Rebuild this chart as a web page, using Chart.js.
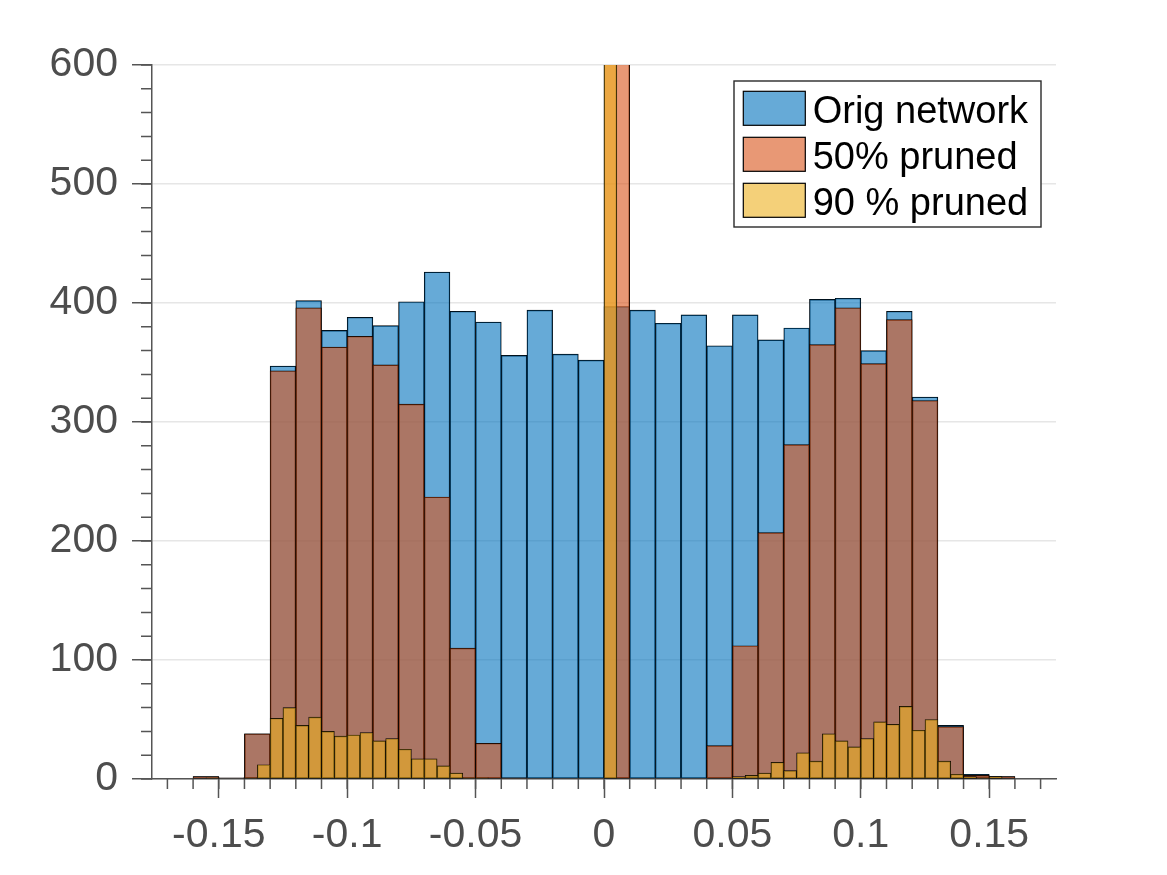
<!DOCTYPE html>
<html>
<head>
<meta charset="utf-8">
<script src="https://cdn.jsdelivr.net/npm/chart.js@4.4.1/dist/chart.umd.min.js"></script>
<style>
html, body { margin: 0; padding: 0; background: #ffffff; }
#wrap { width: 1167px; height: 875px; position: relative; }
</style>
</head>
<body>
<div id="wrap"><canvas id="c"></canvas></div>
<script>
// ---- Data ----
// 0.01-wide bins (Orig network, 50% pruned): bin centres
const coarseBinCenters = [
  -0.155, -0.145, -0.135, -0.125, -0.115, -0.105, -0.095, -0.085,
  -0.075, -0.065, -0.055, -0.045, -0.035, -0.025, -0.015, -0.005,
   0.005,  0.015,  0.025,  0.035,  0.045,  0.055,  0.065,  0.075,
   0.085,  0.095,  0.105,  0.115,  0.125,  0.135,  0.145,  0.155
];
const origNetwork = [
  2, 1, 38, 347, 402, 377, 388, 381,
  401, 426, 393, 384, 356, 394, 357, 352,
  397, 394, 383, 390, 364, 390, 369, 379,
  403, 404, 360, 393, 321, 45, 4, 2
];
const pruned50 = [
  2, 1, 38, 343, 396, 363, 372, 348,
  315, 237, 110, 30, 1, 0, 0, 0,
  5000, 0, 0, 0, 28, 112, 207, 281,
  365, 396, 349, 386, 318, 44, 3, 2
];
// 0.005-wide bins (90 % pruned): bin centres
const fineBinCenters = [
  -0.1575, -0.1525, -0.1475, -0.1425, -0.1375, -0.1325, -0.1275, -0.1225,
  -0.1175, -0.1125, -0.1075, -0.1025, -0.0975, -0.0925, -0.0875, -0.0825,
  -0.0775, -0.0725, -0.0675, -0.0625, -0.0575, -0.0525, -0.0475, -0.0425,
  -0.0375, -0.0325, -0.0275, -0.0225, -0.0175, -0.0125, -0.0075, -0.0025,
   0.0025,  0.0075,  0.0125,  0.0175,  0.0225,  0.0275,  0.0325,  0.0375,
   0.0425,  0.0475,  0.0525,  0.0575,  0.0625,  0.0675,  0.0725,  0.0775,
   0.0825,  0.0875,  0.0925,  0.0975,  0.1025,  0.1075,  0.1125,  0.1175,
   0.1225,  0.1275,  0.1325,  0.1375,  0.1425,  0.1475,  0.1525,  0.1575
];
const pruned90 = [
  0, 1, 0, 0, 1, 12, 51, 60,
  45, 52, 40, 36, 37, 39, 32, 34,
  25, 17, 17, 11, 5, 1, 1, 0,
  0, 0, 0, 0, 0, 0, 0, 0,
  9000, 0, 0, 0, 0, 0, 0, 0,
  0, 0, 2, 3, 5, 14, 7, 22,
  15, 38, 32, 27, 34, 48, 46, 61,
  41, 50, 15, 4, 2, 1, 2, 0
];
const seriesNames = ['Orig network', '50% pruned', '90 % pruned'];
const xLimits = [-0.176, 0.176];
const yLimits = [0, 600];

// ---- Styles ----
const FONT = '"Liberation Sans", Arial, Helvetica, sans-serif';
const TICK_TEXT = '#4d4d4d';
const AXIS = '#555555';
const GRID = '#e6e6e6';
const colors = ['rgba(0,114,189,0.6)', 'rgba(217,83,25,0.6)', 'rgba(237,177,32,0.6)'];

function barSet(label, centers, values, color, axisId, order) {
  return {
    type: 'bar',
    label: label,
    data: centers.map((x, i) => ({ x: x, y: values[i] })),
    xAxisID: axisId,
    yAxisID: 'y',
    backgroundColor: color,
    borderColor: '#000000',
    borderWidth: 0.7,
    borderSkipped: false,
    barPercentage: 1,
    categoryPercentage: 1,
    grouped: false,
    order: order,
    clip: 0
  };
}

const minorTicks = {
  id: 'minorTicks',
  afterDraw(chart) {
    const ctx = chart.ctx, xs = chart.scales.x, ys = chart.scales.y, ca = chart.chartArea;
    ctx.save();
    ctx.strokeStyle = AXIS;
    ctx.lineWidth = 1.5;
    ctx.beginPath();
    for (let i = -17; i <= 17; i++) {
      const px = xs.getPixelForValue(i / 100);
      ctx.moveTo(px, ca.bottom);
      ctx.lineTo(px, ca.bottom + 10);
    }
    for (let i = 0; i <= 30; i++) {
      const py = ys.getPixelForValue(i * 20);
      ctx.moveTo(ca.left, py);
      ctx.lineTo(ca.left - 11, py);
    }
    ctx.stroke();
    ctx.restore();
  }
};

const legendBox = {
  id: 'legendBox',
  afterDraw(chart) {
    const ctx = chart.ctx, ca = chart.chartArea;
    const w = 307, h = 146;
    const right = ca.right - 15, top = ca.top + 16, left = right - w;
    ctx.save();
    ctx.fillStyle = '#ffffff';
    ctx.fillRect(left, top, w, h);
    ctx.strokeStyle = '#2a2a2a';
    ctx.lineWidth = 1.4;
    ctx.strokeRect(left, top, w, h);
    ctx.font = '38px ' + FONT;
    ctx.textBaseline = 'alphabetic';
    ctx.textAlign = 'left';
    seriesNames.forEach((name, i) => {
      const sy = top + 10.3 + i * 46;
      ctx.fillStyle = colors[i];
      ctx.fillRect(left + 9.3, sy, 62, 34);
      ctx.strokeStyle = '#000000';
      ctx.lineWidth = 1.2;
      ctx.strokeRect(left + 9.3, sy, 62, 34);
      ctx.fillStyle = '#000000';
      ctx.fillText(name, left + 78.7, top + 42.3 + i * 46);
    });
    ctx.restore();
  }
};

function fmt(v) {
  const r = Math.round(v * 100) / 100;
  return (Math.abs(r) < 1e-9 ? 0 : r).toString();
}

function hiddenX() {
  return {
    type: 'linear', axis: 'x', position: 'bottom', display: false, offset: false,
    min: xLimits[0], max: xLimits[1], grid: { offset: false }, ticks: { stepSize: 0.05 }
  };
}

new Chart(document.getElementById('c'), {
  type: 'bar',
  data: {
    datasets: [
      barSet(seriesNames[0], coarseBinCenters, origNetwork, colors[0], 'x', 2),
      barSet(seriesNames[1], coarseBinCenters, pruned50, colors[1], 'xo', 1),
      barSet(seriesNames[2], fineBinCenters, pruned90, colors[2], 'xy', 0)
    ]
  },
  options: {
    responsive: true,
    maintainAspectRatio: false,
    animation: false,
    layout: { padding: { top: 65, right: 111, left: 0, bottom: 0 } },
    plugins: { legend: { display: false }, tooltip: { enabled: false } },
    scales: {
      x: {
        type: 'linear', axis: 'x', position: 'bottom', offset: false,
        min: xLimits[0], max: xLimits[1],
        afterFit(scale) { scale.height = 96; },
        grid: { offset: false, drawOnChartArea: false, drawTicks: true, tickLength: 19, tickColor: AXIS, tickWidth: 1.5 },
        border: { display: true, color: AXIS, width: 1.5 },
        ticks: {
          stepSize: 0.05, includeBounds: false, autoSkip: false, maxRotation: 0,
          padding: 13, color: TICK_TEXT, font: { family: FONT, size: 41 },
          callback: (v) => fmt(v)
        }
      },
      xo: hiddenX(),
      xy: hiddenX(),
      y: {
        type: 'linear', position: 'left',
        min: yLimits[0], max: yLimits[1],
        afterFit(scale) { scale.width = 152; },
        grid: { color: GRID, lineWidth: 1.5, drawTicks: true, tickLength: 20, tickColor: AXIS, tickWidth: 1.5 },
        border: { display: true, color: AXIS, width: 1.5 },
        ticks: {
          stepSize: 100, padding: 14, color: TICK_TEXT, font: { family: FONT, size: 41 }
        }
      }
    }
  },
  plugins: [minorTicks, legendBox]
});
</script>
</body>
</html>
